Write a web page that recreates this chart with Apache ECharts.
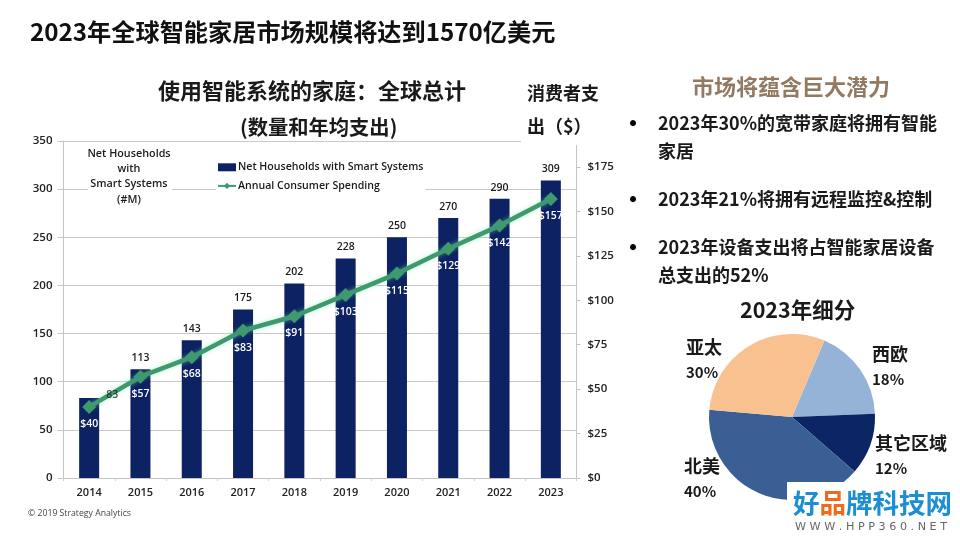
<!DOCTYPE html>
<html>
<head>
<meta charset="utf-8">
<title>2023年全球智能家居市场规模</title>
<style>
  html, body { margin: 0; padding: 0; background: #fff; }
  #chart { width: 960px; height: 540px; }
</style>
<script src="https://cdn.jsdelivr.net/npm/echarts@6/dist/echarts.min.js"></script>
</head>
<body>
<div id="chart"></div>
<script>
const years = ['2014', '2015', '2016', '2017', '2018', '2019', '2020', '2021', '2022', '2023']
const households = [83, 113, 143, 175, 202, 228, 250, 270, 290, 309]
const spending = [40, 57, 68, 83, 91, 103, 115, 129, 142, 157]
const regions = ['西欧', '其它区域', '北美', '亚太']
const regionShares = [18, 12, 40, 30]
const regionColors = ['#95b3d7', '#0c2565', '#3a5f95', '#f9c18f']

const CJK = '"Noto Sans CJK SC"'
const LATIN = '"Open Sans", "Noto Sans CJK SC"'

// 手动摆放的标签位置
const regionLabelSpots = [[872, 367], [875, 456], [684, 479], [686, 360]]

function txt(text, x, y, size, extra) {
  return {
    type: 'text',
    z: 50,
    style: Object.assign({
      text, x, y,
      fill: '#1a1a1a',
      font: 'bold ' + size + 'px ' + CJK,
      textAlign: 'left',
      textVerticalAlign: 'middle'
    }, extra || {})
  }
}

const graphics = [
  // 盖掉右上角的网格线
  { type: 'rect', z: 40, shape: { x: 521, y: 134, width: 60, height: 11 }, style: { fill: '#fff' } },
  { type: 'rect', z: 40, shape: { x: 88, y: 146, width: 84, height: 62 }, style: { fill: '#fff' } },

  txt('2023年全球智能家居市场规模将达到1570亿美元', 30, 32, 24.2, { fill: '#111' }),
  txt('使用智能系统的家庭：全球总计', 158, 91, 22),
  txt('(数量和年均支出)', 240, 127, 20.3),
  txt('消费者支', 527, 93, 18),
  txt('出（$）', 527, 126, 18),
  txt('市场将蕴含巨大潜力', 692, 87, 22, { fill: '#927a62' }),

  txt('Net Households', 129, 154, 10.8, { textAlign: 'center', font: '600 10.8px ' + LATIN }),
  txt('with', 129, 169, 10.8, { textAlign: 'center', font: '600 10.8px ' + LATIN }),
  txt('Smart Systems', 129, 184, 10.8, { textAlign: 'center', font: '600 10.8px ' + LATIN }),
  txt('(#M)', 129, 200, 10.8, { textAlign: 'center', font: '600 10.8px ' + LATIN }),
  txt('© 2019 Strategy Analytics', 28, 514, 8.7, { font: '8.7px ' + LATIN, fill: '#444' }),

  txt('2023年30%的宽带家庭将拥有智能', 658, 123, 18),
  txt('家居', 658, 151, 18),
  txt('2023年21%将拥有远程监控&控制', 658, 199, 18),
  txt('2023年设备支出将占智能家居设备', 658, 247, 18),
  txt('总支出的52%', 658, 275, 18),
  txt('•', 621, 123, 24, { fill: '#000' }),
  txt('•', 621, 199, 24, { fill: '#000' }),
  txt('•', 621, 247, 24, { fill: '#000' }),
  txt('2023年细分', 740, 310, 21.5),

  // 水印
  { type: 'rect', z: 100, shape: { x: 787, y: 482, width: 173, height: 58 }, style: { fill: '#fff' } },
  {
    type: 'text', z: 101,
    style: {
      x: 793, y: 503,
      text: '{a|好}{b|品}{a|牌科技网}',
      textVerticalAlign: 'middle',
      rich: {
        a: { font: 'bold 26.5px ' + CJK, fill: '#1b8fd2' },
        b: { font: 'bold 26.5px ' + CJK, fill: '#ef6a1a' }
      }
    }
  },
  {
    type: 'text', z: 101,
    style: {
      x: 795, y: 527,
      text: 'W W W . H P P 3 6 0 . N E T',
      fill: '#666',
      font: '11.2px "DejaVu Sans"',
      textVerticalAlign: 'middle'
    }
  }
]

const chart = echarts.init(document.getElementById('chart'))

chart.setOption({
  animation: false,
  backgroundColor: '#fff',
  textStyle: { fontFamily: LATIN },
  graphic: graphics,
  grid: { left: 63.5, right: 383.5, top: 141, bottom: 62, containLabel: false },
  legend: {
    left: 216,
    top: 159,
    orient: 'vertical',
    itemWidth: 18,
    itemHeight: 8,
    itemGap: 8,
    padding: [3, 2, 3, 1],
    backgroundColor: '#fff',
    textStyle: { fontSize: 10.6, fontWeight: 600, color: '#1a1a1a', padding: [0, 0, 0, -3] },
    data: [
      { name: 'Net Households with Smart Systems', icon: 'rect' },
      { name: 'Annual Consumer Spending' }
    ]
  },
  xAxis: {
    type: 'category',
    data: years,
    axisLine: { lineStyle: { color: '#c4c4c4' } },
    axisTick: { show: true, length: 3, lineStyle: { color: '#d0d0d0' } },
    axisLabel: { fontSize: 11, fontWeight: 600, color: '#222', margin: 9 }
  },
  yAxis: [
    {
      type: 'value',
      min: 0,
      max: 350,
      interval: 50,
      axisLine: { show: true, lineStyle: { color: '#c4c4c4' } },
      axisTick: { show: true, length: 6, lineStyle: { color: '#c4c4c4' } },
      axisLabel: { fontSize: 11.5, fontWeight: 600, color: '#222', margin: 11 },
      splitLine: { lineStyle: { color: '#c9c9c9' } }
    },
    {
      type: 'value',
      position: 'right',
      min: 0,
      max: 189.6,
      interval: 25,
      axisLine: { show: true, lineStyle: { color: '#c4c4c4' } },
      axisTick: { show: true, length: 4, lineStyle: { color: '#c4c4c4' } },
      axisLabel: { fontSize: 11.5, fontWeight: 600, color: '#222', margin: 11, showMaxLabel: false, formatter: '${value}' },
      splitLine: { show: false }
    }
  ],
  series: [
    {
      name: 'Net Households with Smart Systems',
      type: 'bar',
      yAxisIndex: 0,
      barWidth: 20,
      itemStyle: { color: '#0c2262' },
      label: { show: true, position: 'top', distance: 6, fontSize: 10.5, fontWeight: 600, color: '#1a1a1a' },
      data: households.map((v, i) => (i === 0 ? { value: v, label: { show: false } } : v))
    },
    {
      name: 'Annual Consumer Spending',
      type: 'line',
      yAxisIndex: 1,
      symbol: 'diamond',
      symbolSize: 14,
      z: 5,
      lineStyle: { color: '#3e9a6e', width: 4.5, shadowColor: 'rgba(120,235,175,.55)', shadowBlur: 5 },
      itemStyle: { color: '#3e9a6e' },
      label: { show: true, position: 'bottom', distance: 5, fontSize: 10.5, fontWeight: 600, color: '#fff', formatter: '${c}' },
      data: spending
    },
    {
      // 2014 的数字压在折线上面，单独放一层
      type: 'scatter',
      yAxisIndex: 0,
      z: 8,
      silent: true,
      symbolSize: 1,
      itemStyle: { color: 'transparent' },
      label: { show: true, position: 'inside', offset: [23, -3], fontSize: 10.5, fontWeight: 600, color: '#1a1a1a', formatter: p => p.value[1] },
      data: [[years[0], households[0]]]
    },
    {
      type: 'pie',
      center: [792, 417],
      radius: 83,
      startAngle: 67,
      clockwise: true,
      silent: true,
      label: {
        show: true,
        formatter: '{h|{b}}\n{p|{c}%}',
        overflow: 'none',
        align: 'left',
        rich: {
          h: { fontFamily: CJK, fontWeight: 'bold', fontSize: 18, lineHeight: 25, color: '#1a1a1a' },
          p: { fontFamily: CJK, fontWeight: 'bold', fontSize: 15, lineHeight: 25, color: '#1a1a1a' }
        }
      },
      labelLine: { show: false },
      labelLayout: params => ({
        x: regionLabelSpots[params.dataIndex][0],
        y: regionLabelSpots[params.dataIndex][1],
        align: 'left',
        verticalAlign: 'middle',
        width: 90
      }),
      data: regions.map((name, i) => ({
        name,
        value: regionShares[i],
        itemStyle: { color: regionColors[i] }
      }))
    }
  ]
})
</script>
</body>
</html>
